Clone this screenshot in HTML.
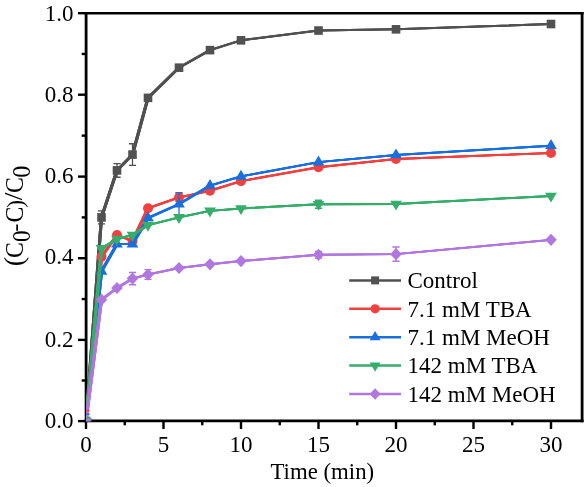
<!DOCTYPE html>
<html><head><meta charset="utf-8"><title>chart</title>
<style>
html,body{margin:0;padding:0;background:#fff;}
body{width:586px;height:487px;overflow:hidden;}
svg{display:block;will-change:transform;}
text{font-family:"Liberation Serif",serif;fill:#000;}
</style></head><body>
<svg width="586" height="487" viewBox="0 0 586 487">
<rect x="0" y="0" width="586" height="487" fill="#ffffff"/>
<defs><clipPath id="pc"><rect x="86.0" y="13" width="496.2" height="408.2"/></clipPath></defs>

<g stroke="#000" fill="none">
<path d="M86.1 12V422.2M582.1 12V422.2" stroke-width="2.8"/>
<path d="M84.6 13.3H583.6M84.6 420.9H583.6" stroke-width="2.6"/>
</g>
<g stroke="#000" stroke-width="2.4" fill="none">
<path d="M86.00 421V429"/>
<path d="M163.50 421V429"/>
<path d="M241.00 421V429"/>
<path d="M318.50 421V429"/>
<path d="M396.00 421V429"/>
<path d="M473.50 421V429"/>
<path d="M551.00 421V429"/>
<path d="M124.75 421V425.3"/>
<path d="M202.25 421V425.3"/>
<path d="M279.75 421V425.3"/>
<path d="M357.25 421V425.3"/>
<path d="M434.75 421V425.3"/>
<path d="M512.25 421V425.3"/>
<path d="M86 421.10H78"/>
<path d="M86 339.90H78"/>
<path d="M86 258.20H78"/>
<path d="M86 176.60H78"/>
<path d="M86 94.70H78"/>
<path d="M86 13.20H78"/>
<path d="M86 380.50H81.7"/>
<path d="M86 299.05H81.7"/>
<path d="M86 217.40H81.7"/>
<path d="M86 135.65H81.7"/>
<path d="M86 53.95H81.7"/>
</g>
<g clip-path="url(#pc)">
<g stroke="#515151" stroke-width="1.1" fill="none" stroke-linejoin="round">
<polyline id="psq" points="86.00,421.00 101.50,217.41 117.00,170.41 132.50,154.58 148.00,97.86 179.00,67.67 210.00,50.13 241.00,40.34 318.50,30.54 396.00,29.32 551.00,24.02"/>
<use href="#psq" x="-1.0" y="-0.42"/>
<use href="#psq" x="-1.0" y="0"/>
<use href="#psq" x="-1.0" y="0.42"/>
<use href="#psq" x="0" y="-0.42"/>
<use href="#psq" x="0" y="0.42"/>
<use href="#psq" x="1.0" y="-0.42"/>
<use href="#psq" x="1.0" y="0"/>
<use href="#psq" x="1.0" y="0.42"/>
</g>
<g stroke="#515151" stroke-width="1.3" fill="none">
<path d="M101.50 210.88V223.94M97.90 210.88H105.10M97.90 223.94H105.10"/>
<path d="M117.00 163.55V177.26M113.40 163.55H120.60M113.40 177.26H120.60"/>
<path d="M132.50 143.76V165.39M128.90 143.76H136.10M128.90 165.39H136.10"/>
</g>
<rect x="81.70" y="416.70" width="8.60" height="8.60" fill="#515151"/>
<rect x="97.20" y="213.11" width="8.60" height="8.60" fill="#515151"/>
<rect x="112.70" y="166.11" width="8.60" height="8.60" fill="#515151"/>
<rect x="128.20" y="150.28" width="8.60" height="8.60" fill="#515151"/>
<rect x="143.70" y="93.56" width="8.60" height="8.60" fill="#515151"/>
<rect x="174.70" y="63.37" width="8.60" height="8.60" fill="#515151"/>
<rect x="205.70" y="45.83" width="8.60" height="8.60" fill="#515151"/>
<rect x="236.70" y="36.04" width="8.60" height="8.60" fill="#515151"/>
<rect x="314.20" y="26.24" width="8.60" height="8.60" fill="#515151"/>
<rect x="391.70" y="25.02" width="8.60" height="8.60" fill="#515151"/>
<rect x="546.70" y="19.72" width="8.60" height="8.60" fill="#515151"/>
<g stroke="#F14040" stroke-width="1.1" fill="none" stroke-linejoin="round">
<polyline id="pci" points="86.00,421.00 101.50,256.78 117.00,234.95 132.50,241.07 148.00,208.23 179.00,197.42 210.00,190.68 241.00,181.10 318.50,167.22 396.00,159.06 551.00,152.94"/>
<use href="#pci" x="-1.0" y="-0.42"/>
<use href="#pci" x="-1.0" y="0"/>
<use href="#pci" x="-1.0" y="0.42"/>
<use href="#pci" x="0" y="-0.42"/>
<use href="#pci" x="0" y="0.42"/>
<use href="#pci" x="1.0" y="-0.42"/>
<use href="#pci" x="1.0" y="0"/>
<use href="#pci" x="1.0" y="0.42"/>
</g>
<g stroke="#F14040" stroke-width="1.3" fill="none">
<path d="M179.00 193.34V201.50M175.40 193.34H182.60M175.40 201.50H182.60"/>
</g>
<circle cx="86.00" cy="421.00" r="5.00" fill="#F14040"/>
<circle cx="101.50" cy="256.78" r="5.00" fill="#F14040"/>
<circle cx="117.00" cy="234.95" r="5.00" fill="#F14040"/>
<circle cx="132.50" cy="241.07" r="5.00" fill="#F14040"/>
<circle cx="148.00" cy="208.23" r="5.00" fill="#F14040"/>
<circle cx="179.00" cy="197.42" r="5.00" fill="#F14040"/>
<circle cx="210.00" cy="190.68" r="5.00" fill="#F14040"/>
<circle cx="241.00" cy="181.10" r="5.00" fill="#F14040"/>
<circle cx="318.50" cy="167.22" r="5.00" fill="#F14040"/>
<circle cx="396.00" cy="159.06" r="5.00" fill="#F14040"/>
<circle cx="551.00" cy="152.94" r="5.00" fill="#F14040"/>
<g stroke="#1A6FDF" stroke-width="1.1" fill="none" stroke-linejoin="round">
<polyline id="pup" points="86.00,421.00 101.50,271.35 117.00,244.13 132.50,244.13 148.00,218.02 179.00,204.15 210.00,185.58 241.00,176.40 318.50,162.12 396.00,154.98 551.00,145.68"/>
<use href="#pup" x="-1.0" y="-0.42"/>
<use href="#pup" x="-1.0" y="0"/>
<use href="#pup" x="-1.0" y="0.42"/>
<use href="#pup" x="0" y="-0.42"/>
<use href="#pup" x="0" y="0.42"/>
<use href="#pup" x="1.0" y="-0.42"/>
<use href="#pup" x="1.0" y="0"/>
<use href="#pup" x="1.0" y="0.42"/>
</g>
<g stroke="#1A6FDF" stroke-width="1.3" fill="none">
<path d="M179.00 192.72V215.57M175.40 192.72H182.60M175.40 215.57H182.60"/>
</g>
<polygon points="86.00,414.40 91.85,424.30 80.15,424.30" fill="#1A6FDF"/>
<polygon points="101.50,264.75 107.35,274.65 95.65,274.65" fill="#1A6FDF"/>
<polygon points="117.00,237.53 122.85,247.43 111.15,247.43" fill="#1A6FDF"/>
<polygon points="132.50,237.53 138.35,247.43 126.65,247.43" fill="#1A6FDF"/>
<polygon points="148.00,211.42 153.85,221.32 142.15,221.32" fill="#1A6FDF"/>
<polygon points="179.00,197.55 184.85,207.45 173.15,207.45" fill="#1A6FDF"/>
<polygon points="210.00,178.98 215.85,188.88 204.15,188.88" fill="#1A6FDF"/>
<polygon points="241.00,169.80 246.85,179.70 235.15,179.70" fill="#1A6FDF"/>
<polygon points="318.50,155.52 324.35,165.42 312.65,165.42" fill="#1A6FDF"/>
<polygon points="396.00,148.38 401.85,158.28 390.15,158.28" fill="#1A6FDF"/>
<polygon points="551.00,139.08 556.85,148.98 545.15,148.98" fill="#1A6FDF"/>
<g stroke="#37AD6B" stroke-width="1.1" fill="none" stroke-linejoin="round">
<polyline id="pdn" points="86.00,421.00 101.50,248.42 117.00,239.03 132.50,234.95 148.00,225.16 179.00,217.41 210.00,210.88 241.00,208.43 318.50,204.27 396.00,203.94 551.00,195.99"/>
<use href="#pdn" x="-1.0" y="-0.42"/>
<use href="#pdn" x="-1.0" y="0"/>
<use href="#pdn" x="-1.0" y="0.42"/>
<use href="#pdn" x="0" y="-0.42"/>
<use href="#pdn" x="0" y="0.42"/>
<use href="#pdn" x="1.0" y="-0.42"/>
<use href="#pdn" x="1.0" y="0"/>
<use href="#pdn" x="1.0" y="0.42"/>
</g>
<g stroke="#37AD6B" stroke-width="1.3" fill="none">
<path d="M318.50 200.27V208.27M314.90 200.27H322.10M314.90 208.27H322.10"/>
</g>
<polygon points="86.00,427.60 91.85,417.70 80.15,417.70" fill="#37AD6B"/>
<polygon points="101.50,255.02 107.35,245.12 95.65,245.12" fill="#37AD6B"/>
<polygon points="117.00,245.63 122.85,235.73 111.15,235.73" fill="#37AD6B"/>
<polygon points="132.50,241.55 138.35,231.65 126.65,231.65" fill="#37AD6B"/>
<polygon points="148.00,231.76 153.85,221.86 142.15,221.86" fill="#37AD6B"/>
<polygon points="179.00,224.01 184.85,214.11 173.15,214.11" fill="#37AD6B"/>
<polygon points="210.00,217.48 215.85,207.58 204.15,207.58" fill="#37AD6B"/>
<polygon points="241.00,215.03 246.85,205.13 235.15,205.13" fill="#37AD6B"/>
<polygon points="318.50,210.87 324.35,200.97 312.65,200.97" fill="#37AD6B"/>
<polygon points="396.00,210.54 401.85,200.64 390.15,200.64" fill="#37AD6B"/>
<polygon points="551.00,202.59 556.85,192.69 545.15,192.69" fill="#37AD6B"/>
<g stroke="#B177DE" stroke-width="1.1" fill="none" stroke-linejoin="round">
<polyline id="pdi" points="86.00,421.00 101.50,299.70 117.00,287.99 132.50,278.61 148.00,274.53 179.00,268.00 210.00,264.33 241.00,261.06 318.50,254.78 396.00,254.13 551.00,239.85"/>
<use href="#pdi" x="-1.0" y="-0.42"/>
<use href="#pdi" x="-1.0" y="0"/>
<use href="#pdi" x="-1.0" y="0.42"/>
<use href="#pdi" x="0" y="-0.42"/>
<use href="#pdi" x="0" y="0.42"/>
<use href="#pdi" x="1.0" y="-0.42"/>
<use href="#pdi" x="1.0" y="0"/>
<use href="#pdi" x="1.0" y="0.42"/>
</g>
<g stroke="#B177DE" stroke-width="1.3" fill="none">
<path d="M132.50 272.49V284.73M128.90 272.49H136.10M128.90 284.73H136.10"/>
<path d="M148.00 269.63V279.42M144.40 269.63H151.60M144.40 279.42H151.60"/>
<path d="M318.50 251.52V258.04M314.90 251.52H322.10M314.90 258.04H322.10"/>
<path d="M396.00 246.99V261.27M392.40 246.99H399.60M392.40 261.27H399.60"/>
</g>
<polygon points="86.00,414.90 91.80,421.00 86.00,427.10 80.20,421.00" fill="#B177DE"/>
<polygon points="101.50,293.60 107.30,299.70 101.50,305.80 95.70,299.70" fill="#B177DE"/>
<polygon points="117.00,281.89 122.80,287.99 117.00,294.09 111.20,287.99" fill="#B177DE"/>
<polygon points="132.50,272.51 138.30,278.61 132.50,284.71 126.70,278.61" fill="#B177DE"/>
<polygon points="148.00,268.43 153.80,274.53 148.00,280.63 142.20,274.53" fill="#B177DE"/>
<polygon points="179.00,261.90 184.80,268.00 179.00,274.10 173.20,268.00" fill="#B177DE"/>
<polygon points="210.00,258.23 215.80,264.33 210.00,270.43 204.20,264.33" fill="#B177DE"/>
<polygon points="241.00,254.96 246.80,261.06 241.00,267.16 235.20,261.06" fill="#B177DE"/>
<polygon points="318.50,248.68 324.30,254.78 318.50,260.88 312.70,254.78" fill="#B177DE"/>
<polygon points="396.00,248.03 401.80,254.13 396.00,260.23 390.20,254.13" fill="#B177DE"/>
<polygon points="551.00,233.75 556.80,239.85 551.00,245.95 545.20,239.85" fill="#B177DE"/>
<path d="M86.00 410.51H89.60" stroke="#F14040" stroke-width="1.3" fill="none"/>
<path d="M86.00 414.19H89.60" stroke="#1A6FDF" stroke-width="1.3" fill="none"/>
<path d="M86.00 417.74H89.60" stroke="#37AD6B" stroke-width="1.3" fill="none"/>
</g>
<g font-size="23">
<text x="86.00" y="451.7" text-anchor="middle">0</text>
<text x="163.50" y="451.7" text-anchor="middle">5</text>
<text x="241.00" y="451.7" text-anchor="middle">10</text>
<text x="318.50" y="451.7" text-anchor="middle">15</text>
<text x="396.00" y="451.7" text-anchor="middle">20</text>
<text x="473.50" y="451.7" text-anchor="middle">25</text>
<text x="551.00" y="451.7" text-anchor="middle">30</text>
<text x="73.5" y="428.40" text-anchor="end">0.0</text>
<text x="73.5" y="346.60" text-anchor="end">0.2</text>
<text x="73.5" y="264.40" text-anchor="end">0.4</text>
<text x="73.5" y="183.30" text-anchor="end">0.6</text>
<text x="73.5" y="101.50" text-anchor="end">0.8</text>
<text x="73.5" y="20.60" text-anchor="end">1.0</text>
</g>
<text x="322.3" y="479.2" font-size="22.8" text-anchor="middle">Time (min)</text>
<text transform="translate(23.0,261.7) rotate(-90) scale(1.0,1)" font-size="28" text-anchor="middle">(</text>
<text transform="translate(22.9,250.0) rotate(-90) scale(0.97,1)" font-size="24.5" text-anchor="middle">C</text>
<text transform="translate(29.9,236.2) rotate(-90) scale(0.95,1)" font-size="24.3" text-anchor="middle">0</text>
<text transform="translate(23.2,227.5) rotate(-90) scale(1.0,1)" font-size="23.6" text-anchor="middle">-</text>
<text transform="translate(22.9,214.55) rotate(-90) scale(0.97,1)" font-size="24.5" text-anchor="middle">C</text>
<text transform="translate(22.9,203.8) rotate(-90) scale(1.0,1)" font-size="23.6" text-anchor="middle">)</text>
<text transform="translate(22.4,196.5) rotate(-90) scale(1.1,1)" font-size="25" text-anchor="middle">/</text>
<text transform="translate(22.9,185.0) rotate(-90) scale(0.97,1)" font-size="24.5" text-anchor="middle">C</text>
<text transform="translate(29.9,171.6) rotate(-90) scale(1.0,1)" font-size="24.3" text-anchor="middle">0</text>
<path d="M349.2 280.4H401" stroke="#515151" stroke-width="2.5" fill="none"/>
<rect x="371.10" y="276.40" width="8.00" height="8.00" fill="#515151"/>
<text x="407.5" y="288.10" font-size="23">Control</text>
<path d="M349.2 308.79999999999995H401" stroke="#F14040" stroke-width="2.5" fill="none"/>
<circle cx="375.10" cy="308.80" r="4.65" fill="#F14040"/>
<text x="407.5" y="316.50" font-size="23">7.1 mM TBA</text>
<path d="M349.2 337.2H401" stroke="#1A6FDF" stroke-width="2.5" fill="none"/>
<polygon points="375.10,331.06 380.54,340.27 369.66,340.27" fill="#1A6FDF"/>
<text x="407.5" y="344.90" font-size="23">7.1 mM MeOH</text>
<path d="M349.2 365.59999999999997H401" stroke="#37AD6B" stroke-width="2.5" fill="none"/>
<polygon points="375.10,371.74 380.54,362.53 369.66,362.53" fill="#37AD6B"/>
<text x="407.5" y="373.30" font-size="23">142 mM TBA</text>
<path d="M349.2 394.0H401" stroke="#B177DE" stroke-width="2.5" fill="none"/>
<polygon points="375.10,388.33 380.49,394.00 375.10,399.67 369.71,394.00" fill="#B177DE"/>
<text x="407.5" y="401.70" font-size="23">142 mM MeOH</text>
</svg>
</body></html>
